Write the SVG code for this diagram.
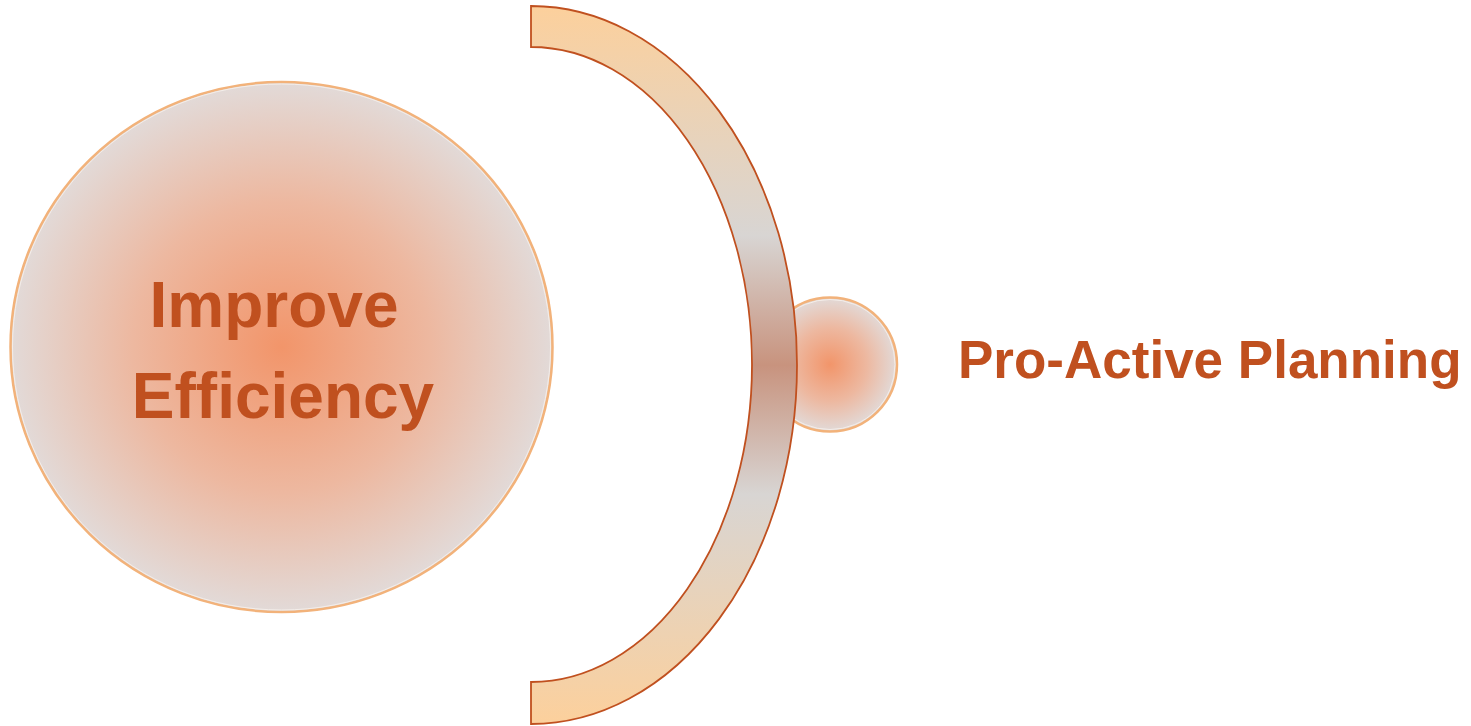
<svg xmlns="http://www.w3.org/2000/svg" width="1471" height="726" viewBox="0 0 1471 726">
<style>
.lbl{font-family:"Liberation Sans",Arial,sans-serif;font-weight:bold;fill:#C0501F}
</style>
<defs>
<radialGradient id="rg" cx="0.5" cy="0.5" r="0.5">
<stop offset="0" stop-color="#F2956A"/>
<stop offset="0.55" stop-color="#EDB8A0"/>
<stop offset="1" stop-color="#E2DAD8"/>
</radialGradient>
<linearGradient id="lg" x1="0" y1="0" x2="0" y2="1">
<stop offset="0" stop-color="#FCD09C"/>
<stop offset="0.32" stop-color="#D8D5D3"/>
<stop offset="0.5" stop-color="#C8937E"/>
<stop offset="0.68" stop-color="#D8D5D3"/>
<stop offset="1" stop-color="#FCD09C"/>
</linearGradient>
</defs>
<g id="node-improve">
<ellipse cx="281.5" cy="347" rx="271" ry="265" fill="url(#rg)" stroke="#F2B27A" stroke-width="2.5"/>
<ellipse cx="281.5" cy="347" rx="269" ry="263" fill="none" stroke="#F4EEEA" stroke-width="1"/>
<text class="lbl" x="274" y="327" font-size="64" text-anchor="middle">Improve</text>
<text class="lbl" x="283" y="418" font-size="64" text-anchor="middle">Efficiency</text>
</g>
<g id="node-small">
<circle cx="830" cy="364.5" r="67" fill="url(#rg)" stroke="#F2B27A" stroke-width="2.5"/>
<circle cx="830" cy="364.5" r="65" fill="none" stroke="#F4EEEA" stroke-width="1"/>
</g>
<g id="connectors">
<path d="M531,6 A266,359 0 0 1 531,724 L531,682 A221,317.5 0 0 0 531,47 Z" fill="url(#lg)" stroke="#C0501F" stroke-width="1.8"/>
</g>
<g id="node-proactive">
<text class="lbl" x="958" y="378" font-size="53">Pro-Active Planning</text>
</g>
</svg>
